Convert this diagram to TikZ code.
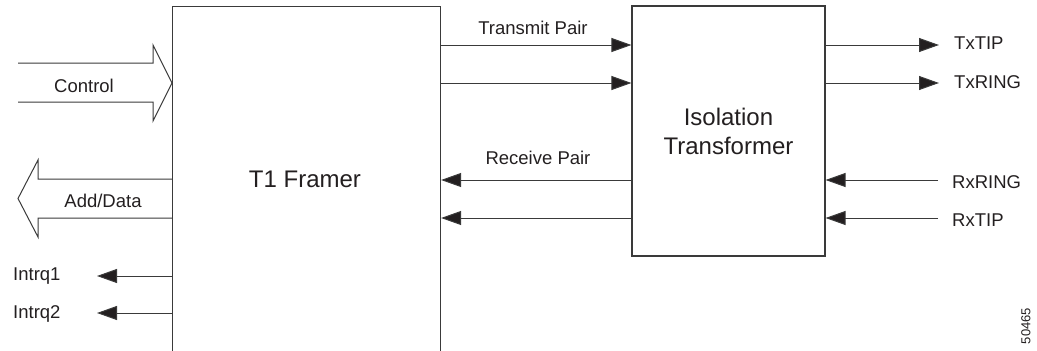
\documentclass[tikz,border=0pt]{standalone}
\usepackage{fontspec}
\setmainfont{Liberation Sans}
\usetikzlibrary{arrows.meta}
\definecolor{ink}{HTML}{231F20}
\definecolor{wire}{HTML}{3A3A3A}
\tikzset{
  box/.style={draw=wire, line width=1.1pt, fill=white, inner sep=0pt},
  sig/.style={draw=wire, line width=1pt, -{Triangle[length=20pt,width=14pt,fill=ink]}, color=wire},
  fat/.style={draw=wire, line width=1pt},
  lbl/.style={text=ink, inner sep=0pt, font=\fontsize{18.5}{22}\selectfont},
  big/.style={text=ink, font=\fontsize{24}{29}\selectfont},
}
\begin{document}
\begin{tikzpicture}[x=1pt,y=-1pt]
\useasboundingbox (0,0) rectangle (1037,351);
\clip (0,0) rectangle (1037,351);

% main blocks (framer runs off the bottom edge)
\node[box, anchor=north west, minimum width=268pt, minimum height=360pt] (framer) at (172,6) {};
\node[big, anchor=base] (framertxt) at (305,187) {T1 Framer};
\node[box, big, align=center, minimum width=193pt, minimum height=250pt] (xfmr) at (728.5,131)
  {Isolation\\Transformer};

% signal levels
\coordinate (ytx1) at (0,45);
\coordinate (ytx2) at (0,83);
\coordinate (yrx1) at (0,180);
\coordinate (yrx2) at (0,218);
\coordinate (yi1) at (0,276);
\coordinate (yi2) at (0,313);

% framer <-> transformer pairs
\draw[sig] (framer.east |- ytx1) -- (xfmr.west |- ytx1);
\draw[sig] (framer.east |- ytx2) -- (xfmr.west |- ytx2);
\draw[sig] (xfmr.west |- yrx1) -- (framer.east |- yrx1);
\draw[sig] (xfmr.west |- yrx2) -- (framer.east |- yrx2);
\node[lbl, anchor=base] (txpair) at (533,34) {Transmit Pair};
\node[lbl, anchor=base] (rxpair) at (538,164) {Receive Pair};

% line side terminals
\coordinate (txtipend) at (939,45);
\coordinate (txringend) at (939,83);
\coordinate (rxringsrc) at (938,180);
\coordinate (rxtipsrc) at (938,218);
\draw[sig] (xfmr.east |- txtipend) -- (txtipend);
\draw[sig] (xfmr.east |- txringend) -- (txringend);
\draw[sig] (rxringsrc) -- (xfmr.east |- rxringsrc);
\draw[sig] (rxtipsrc) -- (xfmr.east |- rxtipsrc);
\node[lbl, anchor=base west] (txtip) at (954,49) {TxTIP};
\node[lbl, anchor=base west] (txring) at (954,88) {TxRING};
\node[lbl, anchor=base west] (rxring) at (952,188) {RxRING};
\node[lbl, anchor=base west] (rxtip) at (952,226) {RxTIP};

% wide bus arrows on the host side
\draw[fat] (18,63) -- (153,63) -- (153,45) -- (framer.west |- 0,83) -- (153,121) -- (153,102) -- (18,102);
\node[lbl, anchor=base] (control) at (84,92) {Control};
\draw[fat] (framer.west |- 0,179) -- (38,179) -- (38,160) -- (18,198.5) -- (38,237) -- (38,218) -- (framer.west |- 0,218);
\node[lbl, anchor=base] (adddata) at (103,207) {Add/Data};

% interrupt lines
\coordinate (i1end) at (97,276);
\coordinate (i2end) at (97,313);
\draw[sig] (framer.west |- yi1) -- (i1end);
\draw[sig] (framer.west |- yi2) -- (i2end);
\node[lbl, anchor=base west] (intrq1) at (13,280) {Intrq1};
\node[lbl, anchor=base west] (intrq2) at (13,318) {Intrq2};

% figure number
\node[text=ink, inner sep=0pt, rotate=90, font=\fontsize{13}{15}\selectfont] (fignum) at (1026,326) {50465};
\end{tikzpicture}
\end{document}
